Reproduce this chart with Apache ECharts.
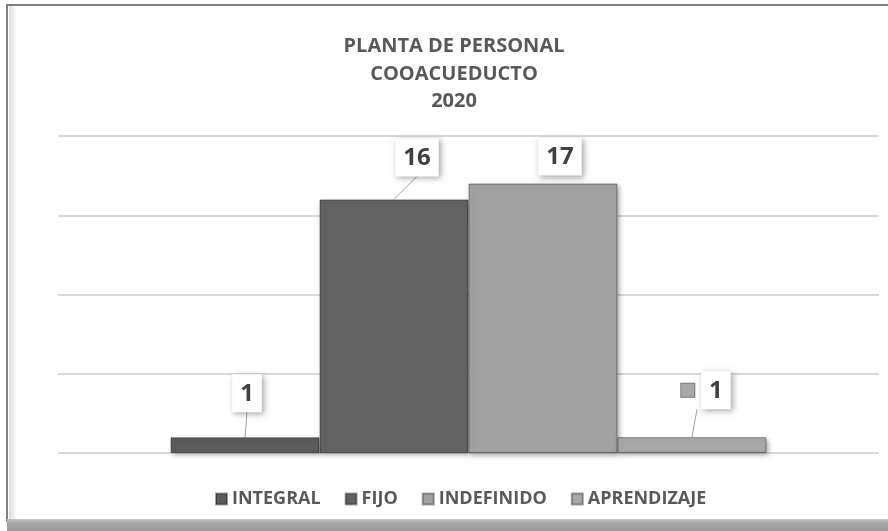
<!DOCTYPE html>
<html>
<head>
<meta charset="utf-8">
<script src="https://cdn.jsdelivr.net/npm/echarts@6/dist/echarts.min.js"></script>
<style>
  html, body { margin: 0; padding: 0; background: #fff; }
  #main { width: 888px; height: 531px; }
</style>
</head>
<body>
<div id="main"></div>
<script>
  // datos
  const titulo = 'PLANTA DE PERSONAL\nCOOACUEDUCTO\n2020';
  const categorias = ['2020'];
  const seriesNombres = ['INTEGRAL', 'FIJO', 'INDEFINIDO', 'APRENDIZAJE'];
  const valores = [1, 16, 17, 1];
  const colores = ['#5b5b5b', '#626262', '#a2a2a2', '#a8a8a8'];
  // desplazamiento de etiquetas (dx, dy) y final de la linea guia
  const desplaz = [[2, -20], [23, -18], [17, -3], [14, -23]];
  const guiaDx = [2, 23, null, 5];
  const anchoBarra = 149;

  const chart = echarts.init(document.getElementById('main'));

  const series = seriesNombres.map(function (nombre, i) {
    return {
      name: nombre,
      type: 'bar',
      barWidth: anchoBarra,
      barGap: '0%',
      data: [valores[i]],
      itemStyle: {
        color: colores[i],
        borderColor: 'rgba(0,0,0,0.35)',
        borderWidth: 1,
        shadowBlur: 5,
        shadowColor: 'rgba(0,0,0,0.35)',
        shadowOffsetX: 2,
        shadowOffsetY: 2
      },
      label: {
        show: true,
        position: 'top',
        distance: 5,
        formatter: i === 3 ? '{k|}  {v|{c}}' : '{v|{c}}',
        rich: {
          k: { width: 13, height: 13, backgroundColor: colores[i], borderColor: '#777', borderWidth: 1 },
          v: {
            fontFamily: 'Open Sans',
            fontWeight: 'bold',
            fontSize: 24,
            color: '#404040',
            backgroundColor: '#fff',
            padding: [8, 8, 6, 8],
            shadowColor: 'rgba(0,0,0,0.35)',
            shadowBlur: 6,
            shadowOffsetX: 2,
            shadowOffsetY: 2
          }
        }
      },
      labelLayout: { dx: desplaz[i][0], dy: desplaz[i][1] }
    };
  });

  // lineas guia de las etiquetas
  series.push({
    type: 'custom',
    name: 'guias',
    silent: true,
    data: valores.map(function (v, i) { return [0, v, i]; }),
    encode: { x: 0, y: 1 },
    renderItem: function (params, api) {
      const i = api.value(2);
      if (guiaDx[i] === null) return null;
      const p = api.coord([api.value(0), api.value(1)]);
      const cx = p[0] + (i - 1.5) * anchoBarra;
      return {
        type: 'line',
        shape: { x1: cx, y1: p[1], x2: cx + guiaDx[i], y2: p[1] - 5 + desplaz[i][1] },
        style: { stroke: '#a0a0a0', lineWidth: 1 }
      };
    }
  });

  const option = {
    backgroundColor: '#fff',
    animation: false,
    title: {
      text: titulo,
      left: 449,
      textAlign: 'center',
      top: 28,
      textStyle: {
        fontFamily: 'Open Sans',
        fontWeight: 'bold',
        fontSize: 20,
        lineHeight: 27.5,
        color: '#595959'
      }
    },
    legend: {
      left: 210,
      top: 485,
      itemWidth: 11,
      itemHeight: 11,
      itemGap: 24,
      icon: 'rect',
      textStyle: {
        fontFamily: 'Open Sans',
        fontWeight: 'bold',
        fontSize: 18,
        color: '#595959'
      },
      data: seriesNombres
    },
    grid: { left: 58, right: 9, top: 136, bottom: 78 },
    xAxis: {
      type: 'category',
      data: categorias,
      axisLine: { show: false },
      axisTick: { show: false },
      axisLabel: { show: false }
    },
    yAxis: {
      type: 'value',
      min: 0,
      max: 20,
      interval: 5,
      axisLabel: { show: false },
      axisLine: { show: false },
      axisTick: { show: false },
      splitLine: { lineStyle: { color: '#d9d9d9', width: 2 } }
    },
    graphic: [
      { type: 'rect', shape: { x: 9, y: 6, width: 8, height: 514 },
        style: { fill: new echarts.graphic.LinearGradient(0, 0, 1, 0, [
          { offset: 0, color: '#dcdcdc' }, { offset: 1, color: '#ffffff' }]) }, silent: true },
      { type: 'rect', shape: { x: 7, y: 5, width: 884, height: 516 },
        style: { fill: 'none', stroke: '#808080', lineWidth: 2 }, silent: true },
      { type: 'rect', shape: { x: 7, y: 519, width: 884, height: 12 },
        style: { fill: new echarts.graphic.LinearGradient(0, 0, 0, 1, [
          { offset: 0, color: '#c8c8c8' }, { offset: 0.3, color: '#a8a8a8' }, { offset: 1, color: '#9a9a9a' }]) }, silent: true }
    ],
    series: series
  };

  chart.setOption(option);
</script>
</body>
</html>
